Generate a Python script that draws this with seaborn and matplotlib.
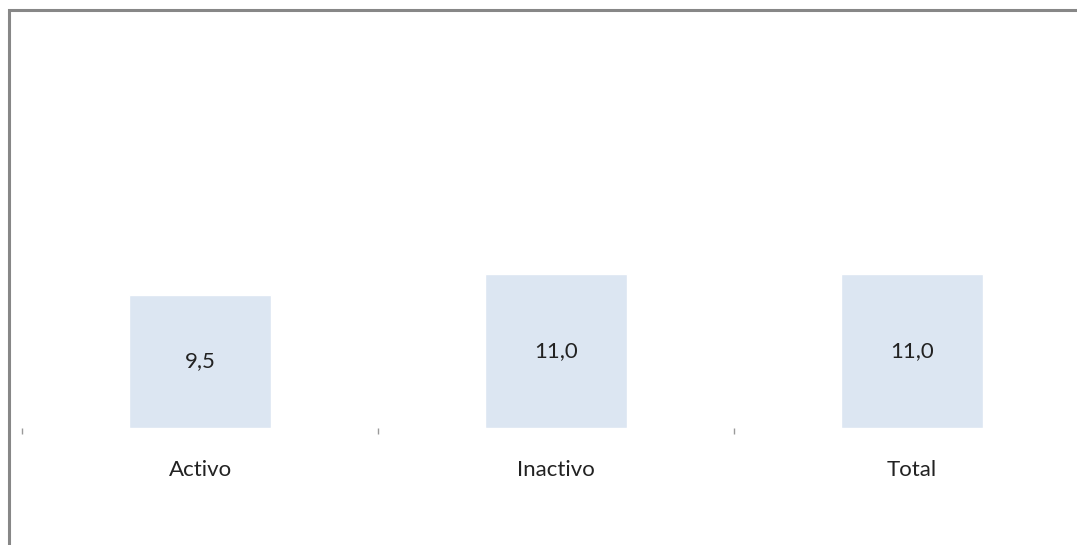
import matplotlib
matplotlib.use("Agg")
import matplotlib.pyplot as plt
import seaborn as sns
import pandas as pd
from matplotlib.patches import Rectangle

categories = ["Activo", "Inactivo", "Total"]
values = [9.5, 11.0, 11.0]

sns.set_style("white")
plt.rcParams["font.family"] = ["Lato", "DejaVu Sans"]

W, H = 1077, 545
fig = plt.figure(figsize=(W / 100, H / 100), dpi=100)

# plot area in pixel coordinates
px_left, px_right, px_top, px_bottom = 22, 1077, 9, 428
ax = fig.add_axes([px_left / W, 1 - px_bottom / H,
                   (px_right - px_left) / W, (px_bottom - px_top) / H])

df = pd.DataFrame({"cat": categories, "val": values})
sns.barplot(data=df, x="cat", y="val", color="#dce6f2", width=0.4,
            saturation=1, ax=ax)

unit_px = 356
ax.set_xlim(-0.5, -0.5 + (px_right - px_left) / unit_px)
ax.set_ylim(0, (px_bottom - px_top) / 14.0)

for c in ax.containers:
    ax.bar_label(c, labels=[f"{v:.1f}".replace(".", ",") for v in values],
                 label_type="center", fontsize=16, color="#222222")

for s in ax.spines.values():
    s.set_visible(False)
ax.set_xlabel("")
ax.set_ylabel("")
ax.set_yticks([])

ax.set_xticks(range(len(categories)))
ax.set_xticklabels(categories, fontsize=16, color="#222222")
ax.tick_params(axis="x", which="major", bottom=False, length=0, pad=23)
ax.set_xticks([i - 0.5 for i in range(len(categories))], minor=True)
ax.tick_params(axis="x", which="minor", bottom=True, length=4.5, width=1.0,
               color="#9a9a9a", direction="out", pad=0)

# outer frame
fig.patches.append(Rectangle((8.5 / W, -0.1), 1.2, 1 - 10 / H + 0.1,
                             transform=fig.transFigure, fill=False,
                             edgecolor="#878787", linewidth=2.2))

fig.savefig("out.png", dpi=100)
